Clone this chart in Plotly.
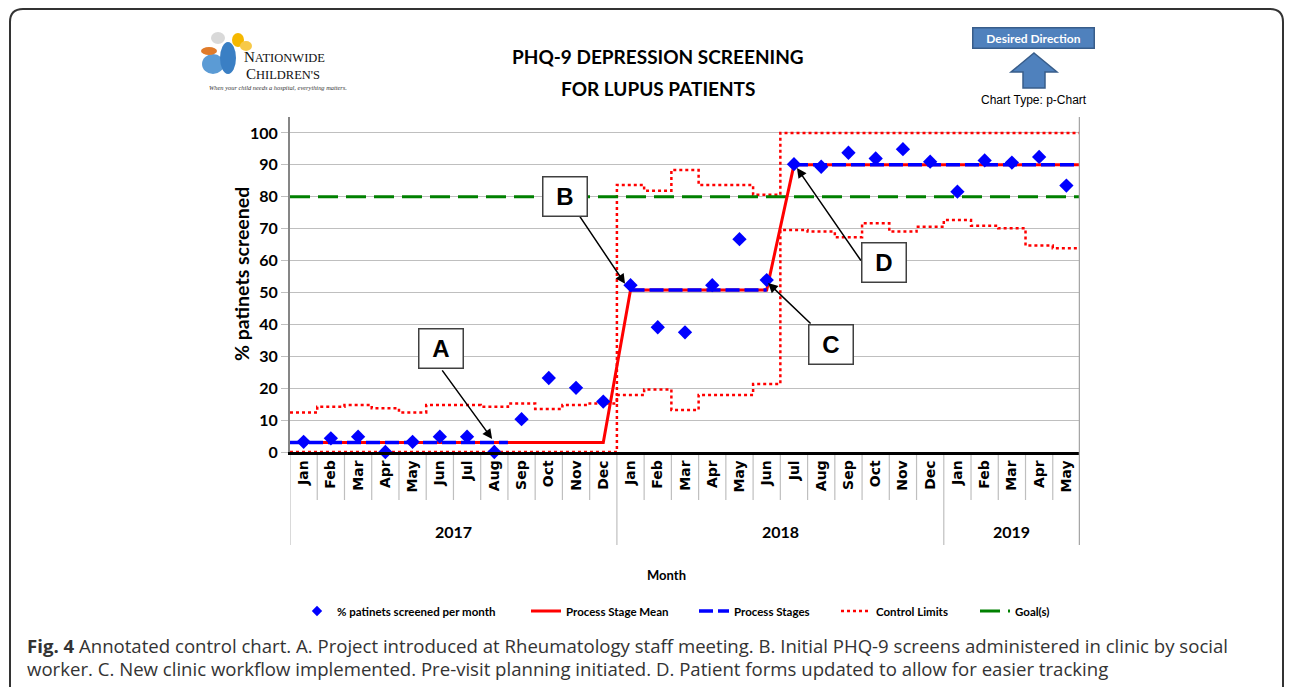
import plotly.graph_objects as go

# ---------------- data ----------------
months = ["Jan", "Feb", "Mar", "Apr", "May", "Jun", "Jul", "Aug", "Sep", "Oct", "Nov", "Dec",
          "Jan", "Feb", "Mar", "Apr", "May", "Jun", "Jul", "Aug", "Sep", "Oct", "Nov", "Dec",
          "Jan", "Feb", "Mar", "Apr", "May"]
years = ["2017", "2018", "2019"]
year_month_counts = [12, 12, 5]

pct_screened = [3.2, 4.3, 4.8, 0.0, 3.2, 4.8, 4.8, 0.0, 10.3, 23.2, 20.1, 15.8,
                52.3, 39.1, 37.5, 52.3, 66.7, 53.9, 90.2, 89.4, 93.8, 92.0, 94.9, 91.0,
                81.6, 91.4, 90.7, 92.5, 83.5]

stage_mean = [3.0, 3.0, 3.0, 3.0, 3.0, 3.0, 3.0, 3.0, 3.0, 3.0, 3.0, 3.0,
              50.8, 50.8, 50.8, 50.8, 50.8, 50.8,
              90.0, 90.0, 90.0, 90.0, 90.0, 90.0, 90.0, 90.0, 90.0, 90.0, 90.0]

process_stages = [3.0, 3.0, 3.0, 3.0, 3.0, 3.0, 3.0, 3.0, None, None, None, None,
                  50.8, 50.8, 50.8, 50.8, 50.8, 50.8,
                  90.0, 90.0, 90.0, 90.0, 90.0, 90.0, 90.0, 90.0, 90.0, 90.0, 90.0]

upper_limit = [12.4, 14.2, 14.7, 13.7, 12.4, 14.7, 14.7, 14.2, 15.2, 13.5, 14.7, 15.2,
               83.7, 81.9, 88.4, 83.7, 83.7, 80.6,
               100, 100, 100, 100, 100, 100, 100, 100, 100, 100, 100]
lower_limit = [0, 0, 0, 0, 0, 0, 0, 0, 0, 0, 0, 0,
               17.9, 19.6, 13.2, 17.9, 17.9, 21.3,
               69.6, 69.1, 67.3, 71.7, 69.1, 70.6, 72.7, 70.9, 70.1, 64.7, 63.9]

goal = 80

annotation_labels = ["A", "B", "C", "D"]
annotation_targets = [(6.92, 4.1), (11.8, 52.7), (17.05, 53.0), (18.11, 89.0)]

# ---------------- layout helpers ----------------
W, H = 1292, 687          # window size
OFF = 8                   # page body margin
L, R, T, B = 290, 1080, 117, 452   # plot area in window pixels
n = len(months)


def px(x):
    return (x - L) / (R - L)


def py(y):
    return (B - y) / (B - T)


def txt(x, y, text, size, family="Lato", color="#000000", weight="normal", xanchor="center", **kw):
    return dict(x=px(x), y=py(y), xref="paper", yref="paper", text=text, showarrow=False,
                xanchor=xanchor, yanchor="middle",
                font=dict(family=family, size=size, color=color, weight=weight), **kw)


idx = list(range(n))
fig = go.Figure()

# control limits (step lines)
xs_step = [i - 0.5 for i in idx] + [n - 0.5]
cl_x = xs_step + [None] + xs_step
cl_y = upper_limit + [upper_limit[-1]] + [None] + lower_limit + [lower_limit[-1]]
fig.add_trace(go.Scatter(x=cl_x, y=cl_y, mode="lines", line=dict(color="#FF0000", width=2.5, dash="dot"),
                         line_shape="hv", name="Control Limits", legend="legend4", connectgaps=False,
                         cliponaxis=False))

# goal
fig.add_trace(go.Scatter(x=[-0.5, n - 0.5], y=[goal, goal], mode="lines",
                         line=dict(color="#008000", width=3, dash="20px,8px"),
                         name="Goal(s)", legend="legend5"))

# process stage mean
fig.add_trace(go.Scatter(x=[-0.5] + idx + [n - 0.5], y=[stage_mean[0]] + stage_mean + [stage_mean[-1]],
                         mode="lines", line=dict(color="#FF0000", width=3),
                         name="Process Stage Mean", legend="legend2"))

# process stages (blue dashed segments, split on gaps or value changes)
runs = []
start = None
vals = process_stages + [None]
for i, v in enumerate(vals):
    if start is None:
        if v is not None:
            start = i
    elif v is None or v != vals[start]:
        runs.append((start, i - 1))
        start = i if v is not None else None
ps_x, ps_y = [], []
for k, (s, e) in enumerate(runs):
    if k == 0:
        xs0, xe0 = s - 0.5, e + 0.5
    elif k == len(runs) - 1:
        xs0, xe0 = s, n - 0.5
    else:
        xs0, xe0 = s, e
    ps_x += [xs0, xe0, None]
    ps_y += [process_stages[s], process_stages[e], None]
fig.add_trace(go.Scatter(x=ps_x, y=ps_y, mode="lines", line=dict(color="#0000FF", width=3.5, dash="14px,5px"),
                         name="Process Stages", legend="legend3"))

# data points
fig.add_trace(go.Scatter(x=idx, y=pct_screened, mode="markers",
                         marker=dict(symbol="diamond", size=11, color="#0000FF"),
                         name="% patinets screened per month", showlegend=False, cliponaxis=False))
# legend entry for the data points (smaller symbol, as in the original legend)
fig.add_trace(go.Scatter(x=[None], y=[None], mode="markers",
                         marker=dict(symbol="diamond", size=8, color="#0000FF"),
                         name="% patinets screened per month", legend="legend"))

shapes = []
# month dividers in label area
for k in range(n + 1):
    yb = py(500)
    if k in (0, 12, 24, n):
        yb = py(545)
    shapes.append(dict(type="line", xref="x", yref="paper", x0=k - 0.5, x1=k - 0.5, y0=0, y1=yb,
                       line=dict(color="#BFBFBF", width=1.2), layer="below"))
# right edge line
shapes.append(dict(type="line", xref="x", yref="paper", x0=n - 0.5, x1=n - 0.5, y0=py(545), y1=1,
                   line=dict(color="#A6A6A6", width=2.5)))

# outer rounded frame
frame = (f"M {px(10)},{py(700)} L {px(10)},{py(22)} Q {px(10)},{py(9)} {px(23)},{py(9)} "
         f"L {px(1270)},{py(9)} Q {px(1283)},{py(9)} {px(1283)},{py(22)} L {px(1283)},{py(700)}")
shapes.append(dict(type="path", xref="paper", yref="paper", path=frame, line=dict(color="#333333", width=2)))

# desired direction arrow
arrow_path = (f"M {px(1034)},{py(53)} L {px(1057)},{py(72)} L {px(1045)},{py(72)} L {px(1045)},{py(88)} "
              f"L {px(1023)},{py(88)} L {px(1023)},{py(72)} L {px(1011)},{py(72)} Z")
shapes.append(dict(type="path", xref="paper", yref="paper", path=arrow_path,
                   fillcolor="#4F81BD", line=dict(color="#385D8A", width=1.5)))


# logo butterflies (decorative)
def blob(cx, cy, rx, ry, color):
    return dict(type="circle", xref="paper", yref="paper", x0=px(cx - rx), x1=px(cx + rx),
                y0=py(cy + ry), y1=py(cy - ry), fillcolor=color, line=dict(width=0))


shapes += [blob(213, 64, 11, 10, "#5B9BD5"), blob(228, 58, 8, 16, "#3A7FC4"),
           blob(209, 51, 8, 4, "#E07B2A"), blob(218, 38, 7, 6, "#D9D9D9"),
           blob(238, 40, 6, 7, "#F5B800"), blob(246, 46, 6, 5, "#F7C948")]

annotations = []
# year labels
pos = 0
for yr, cnt in zip(years, year_month_counts):
    c = pos - 0.5 + cnt / 2
    annotations.append(dict(x=c, y=py(531), xref="x", yref="paper", text=yr, showarrow=False,
                            xanchor="center", yanchor="middle",
                            font=dict(family="Lato", size=16, color="#000000", weight="bold")))
    pos += cnt

annotations.append(txt(666, 575, "Month", 13, weight="bold"))
annotations.append(txt(241, 274, "% patinets screened", 19.5, weight="bold", textangle=-90))

# titles
annotations.append(txt(658, 57, "PHQ-9 DEPRESSION SCREENING", 19, weight="bold"))
annotations.append(txt(658, 88, "FOR LUPUS PATIENTS", 19, weight="bold"))

annotations.append(txt(1033, 38, "Desired Direction", 12, color="#FFFFFF", weight="bold",
                       width=120, height=19, bgcolor="#4F81BD", bordercolor="#385D8A",
                       borderwidth=1.5, borderpad=0))
annotations.append(txt(1034, 100, "Chart Type: p-Chart", 12, family="Liberation Sans"))

# logo text
annotations.append(txt(284, 56.5, "N<span style='font-size:12.5px'>ATIONWIDE</span>", 15,
                       family="Liberation Serif", color="#111111"))
annotations.append(txt(283, 74.5, "C<span style='font-size:12.5px'>HILDREN'S</span>", 15,
                       family="Liberation Serif", color="#111111"))
annotations.append(txt(278, 87.5, "<i>When your child needs a hospital, everything matters.</i>", 6.4,
                       family="Liberation Serif", color="#333333"))

# caption
annotations.append(txt(25, 645, "<b>Fig. 4</b> Annotated control chart. A. Project introduced at Rheumatology "
                                "staff meeting. B. Initial PHQ-9 screens administered in clinic by social",
                       18.6, family="Open Sans", color="#333333", xanchor="left"))
annotations.append(txt(25, 668, "worker. C. New clinic workflow implemented. Pre-visit planning initiated. "
                                "D. Patient forms updated to allow for easier tracking",
                       18.6, family="Open Sans", color="#333333", xanchor="left"))

# annotation arrows then boxes
arrow_offsets = [(-51, -70), (-47, -70), (44, 42), (65, 94)]
box_centers = [(441, 348), (565, 196), (831, 344), (884, 262)]
for (tx, ty), (ax, ay) in zip(annotation_targets, arrow_offsets):
    annotations.append(dict(x=tx, y=ty, xref="x", yref="y", text="", showarrow=True, ax=ax, ay=ay,
                            arrowhead=2, arrowsize=1.3, arrowwidth=1.5, arrowcolor="#000000", standoff=0))
for lab, (bx, by) in zip(annotation_labels, box_centers):
    annotations.append(txt(bx, by, lab, 24, family="Liberation Sans", weight="bold",
                           width=43, height=38, bgcolor="#FFFFFF", bordercolor="#404040",
                           borderwidth=1.5, borderpad=0))

legend_font = dict(family="Lato", size=11.5, color="#000000", weight="bold")
legend_text_starts = [339, 568, 736, 878, 1017]
legend_keys = ["legend", "legend2", "legend3", "legend4", "legend5"]
legends = {}
for key, xs in zip(legend_keys, legend_text_starts):
    legends[key] = dict(orientation="h", x=px(xs - 42), xanchor="left", y=py(611), yanchor="middle",
                        font=legend_font, itemwidth=30, bgcolor="rgba(0,0,0,0)")

fig.update_layout(
    width=W - OFF, height=H - OFF,
    margin=dict(l=L - OFF, r=W - R, t=T - OFF, b=H - B, autoexpand=False),
    paper_bgcolor="#FFFFFF", plot_bgcolor="#FFFFFF",
    shapes=shapes, annotations=annotations,
    showlegend=True,
    xaxis=dict(range=[-0.5, n - 0.5], tickmode="array", tickvals=idx, ticktext=months, tickangle=-90,
               showgrid=False, zeroline=False, showline=True, linecolor="#000000", linewidth=2.5,
               ticks="", tickfont=dict(family="DejaVu Sans", size=14, color="#000000", weight="bold")),
    yaxis=dict(range=[0, 105], tickmode="array", tickvals=list(range(0, 101, 10)), showgrid=True,
               gridcolor="#BFBFBF", gridwidth=1, zeroline=False, showline=True, linecolor="#868686",
               linewidth=2, ticks="outside", ticklen=7, tickcolor="#BFBFBF",
               tickfont=dict(family="Lato", size=16, color="#000000", weight="bold")),
    **legends,
)

fig.write_html("out.html")
